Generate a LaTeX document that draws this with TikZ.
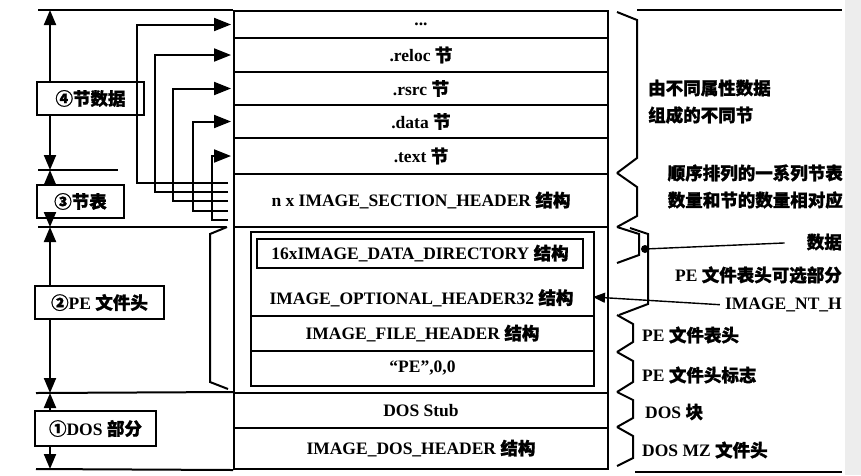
\documentclass[tikz,border=0pt]{standalone}
\usepackage{fontspec}
\setmainfont{Liberation Serif}
\newfontfamily\cjk{Noto Sans CJK SC}[FakeBold=1.2]
\usetikzlibrary{arrows.meta,calc}
\newcommand\zh[1]{{\cjk #1}}
\begin{document}
\begin{tikzpicture}[x=1pt,y=-1pt,
  every node/.style={font=\fontsize{17.5}{20}\selectfont\bfseries, inner sep=0pt},
  ln/.style={line width=2pt},
  thinln/.style={line width=1.4pt},
  row/.style={draw, line width=2pt, minimum width=374pt, anchor=north west},
  inrow/.style={draw, line width=2pt, minimum width=343pt, anchor=north west},
  lbox/.style={draw, line width=2pt, anchor=north west},
  varr/.style={line width=2pt, -{Triangle[length=15pt,width=12pt]}},
  sarr/.style={line width=2pt, -{Triangle[length=17pt,width=13pt]}, shorten >=2pt},
  rl/.style={anchor=west},
  brk/.style={line width=2pt, line join=miter}
]
\useasboundingbox (0,0) rectangle (861,475);
\fill[white] (0,0) rectangle (861,475);

% ---- main stack ----
\node[row, minimum height=27pt] (r0) at (233,10) {...};
\node[row, minimum height=34pt] (r1) at (233,37) {.reloc \zh{节}};
\node[row, minimum height=33pt] (r2) at (233,71) {.rsrc \zh{节}};
\node[row, minimum height=33pt] (r3) at (233,104) {.data \zh{节}};
\node[row, minimum height=36pt] (r4) at (233,137) {.text \zh{节}};
\node[row, minimum height=53pt] (r5) at (233,173) {n x IMAGE\_SECTION\_HEADER \zh{结构}};
\node[row, minimum height=166pt] (r6) at (233,226) {};
\node[row, minimum height=35pt] (r7) at (233,392) {DOS Stub};
\node[row, minimum height=41pt] (r8) at (233,427) {IMAGE\_DOS\_HEADER \zh{结构}};

% ---- PE header inner box ----
\node[inrow, minimum height=84pt] (opt) at (250,231) {};
\node[draw, line width=2pt, anchor=north west, minimum width=326pt, minimum height=29pt] (dd) at (256,238) {16xIMAGE\_DATA\_DIRECTORY \zh{结构}};
\node (optlbl) at (421.5,298) {IMAGE\_OPTIONAL\_HEADER32 \zh{结构}};
\node[inrow, minimum height=35pt] (fh) at (250,315) {IMAGE\_FILE\_HEADER \zh{结构}};
\node[inrow, minimum height=35pt] (sig) at (250,350) {“PE”,0,0};

% ---- left boxes ----
\node[lbox, minimum width=107pt, minimum height=33pt] (b4) at (36,81) {\zh{④节数据}};
\node[lbox, minimum width=87pt, minimum height=33pt] (b3) at (36,184) {\zh{③节表}};
\node[lbox, minimum width=129pt, minimum height=33pt] (b2) at (34,285) {\zh{②}PE \zh{文件头}};
\node[lbox, minimum width=121pt, minimum height=35pt] (b1) at (34,410) {\zh{①}DOS \zh{部分}};

% ---- left horizontal lines ----
\draw[ln] (38,10) -- (r0.north west);
\draw[ln] (38,170) -- (118,170);
\draw[ln] (38,227) -- (226,227);
\draw[ln] (36,393) -- (r7.north west);
\draw[ln] (36,469) -- (r8.south west);

% ---- left bracket for PE header ----
\draw[brk] (227,227) -- (210,234) -- (210,382) -- (228,389);

% ---- vertical arrows ----
\coordinate (t0) at (50,10);
\coordinate (t1) at (50,170);
\coordinate (t2) at (50,227);
\coordinate (t3) at (50,393);
\coordinate (t4) at (50,469);
\draw[varr] (b4.north -| t0) -- (t0);
\draw[varr] (b4.south -| t0) -- (t1);
\draw[varr] (b3.north -| t0) -- (t1);
\draw[varr] (b3.south -| t0) -- (t2);
\draw[varr] (b2.north -| t0) -- (t2);
\draw[varr] (b2.south -| t0) -- (t3);
\draw[varr] (b1.north -| t0) -- (t3);
\draw[varr] (b1.south -| t0) -- (t4);

% ---- section arrows ----
\coordinate (s1) at (228,183);
\coordinate (s2) at (228,192);
\coordinate (s3) at (228,201);
\coordinate (s4) at (228,211);
\coordinate (s5) at (228,220);
\draw[sarr] (s1) -- (137,183) |- (r0.west);
\draw[sarr] (s2) -- (155,192) |- (r1.west);
\draw[sarr] (s3) -- (173,201) |- (r2.west);
\draw[sarr] (s4) -- (193,211) |- (r3.west);
\draw[sarr] (s5) -- (212,220) |- (r4.west);

% ---- right brackets ----
\draw[brk] (617,12) -- (637,20) -- (637,158) -- (617,173);
\draw[brk] (617,173) -- (637,187) -- (637,216) -- (617,227);
\draw[brk] (617,227) -- (639,234) -- (639,255) -- (617,263);
\draw[brk] (630,228) -- (648,234) -- (648,304) -- (619,315);
\draw[brk] (617,315) -- (633,324) -- (633,342) -- (617,352);
\draw[brk] (617,352) -- (633,361) -- (633,382) -- (617,392);
\draw[brk] (617,392) -- (633,400) -- (633,418) -- (617,427);
\draw[brk] (617,427) -- (633,436) -- (633,458) -- (617,466);

% ---- right rules ----
\draw[ln] (637,10) -- (842,10);
\draw[ln] (635,472) -- (842,472);

% ---- right labels ----
\node[rl] (L1a) at (648,88) {\zh{由不同属性数据}};
\node[rl] (L1b) at (648,115) {\zh{组成的不同节}};
\node[anchor=east] (L2a) at (843,173) {\zh{顺序排列的一系列节表}};
\node[anchor=east] (L2b) at (843,200) {\zh{数量和节的数量相对应}};
\node[anchor=east] (L3) at (842,242) {\zh{数据}};
\node[anchor=east] (L4) at (842,275) {PE \zh{文件表头可选部分}};
\node[anchor=east] (L5) at (842,305) {IMAGE\_NT\_H};
\node[rl] (L6) at (642,335) {PE \zh{文件表头}};
\node[rl] (L7) at (642,375) {PE \zh{文件头标志}};
\node[rl] (L8) at (645,412) {DOS \zh{块}};
\node[rl] (L9) at (642,450) {DOS MZ \zh{文件头}};

% ---- leaders ----
\coordinate (dotpt) at (645,249);
\fill (dotpt) circle (4pt);
\draw[thinln, shorten >=22pt] (dotpt) -- (L3.west);
\coordinate (nttip) at (593,297);
\draw[thinln, -{Triangle[length=12pt,width=10pt]}, shorten <=5pt] (L5.west) -- (nttip);

% ---- grey strip at right edge ----
\fill[black!7] (845,0) rectangle (861,475);
\end{tikzpicture}
\end{document}
